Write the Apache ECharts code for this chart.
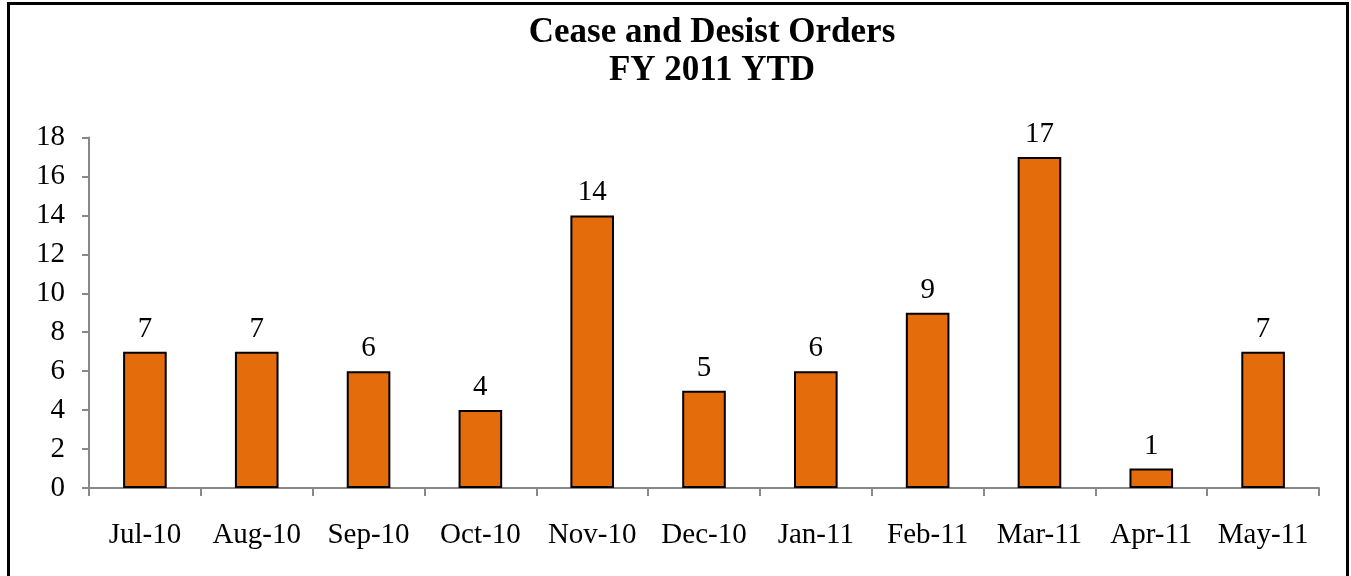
<!DOCTYPE html>
<html>
<head>
<meta charset="utf-8">
<script src="https://cdn.jsdelivr.net/npm/echarts@6/dist/echarts.min.js"></script>
<style>
html,body{margin:0;padding:0;background:#fff;overflow:hidden;}
#frame{position:absolute;left:7px;top:2px;width:1336px;height:600px;border:3px solid #000;box-sizing:content-box;}
#chart{position:absolute;left:0;top:0;width:1351px;height:576px;}
</style>
</head>
<body>
<div id="frame"></div>
<div id="chart"></div>
<script>
const categories = ['Jul-10','Aug-10','Sep-10','Oct-10','Nov-10','Dec-10','Jan-11','Feb-11','Mar-11','Apr-11','May-11'];
const orders = [7, 7, 6, 4, 14, 5, 6, 9, 17, 1, 7];
const titleLines = ['Cease and Desist Orders', 'FY 2011 YTD'];

const chart = echarts.init(document.getElementById('chart'), null, {renderer: 'canvas'});
const serif = '"Liberation Serif", "Times New Roman", serif';
chart.setOption({
  animation: false,
  backgroundColor: 'transparent',
  title: {
    text: titleLines.join('\n'),
    left: 707,
    textAlign: 'center',
    top: 9,
    textStyle: {fontFamily: serif, fontWeight: 'bold', fontSize: 35, lineHeight: 38, color: '#000'}
  },
  grid: {left: 89, right: 32, top: 137.5, bottom: 88, containLabel: false},
  xAxis: {
    type: 'category',
    data: categories,
    axisLine: {lineStyle: {color: '#888', width: 2}},
    axisTick: {show: true, alignWithLabel: false, length: 8, lineStyle: {color: '#888', width: 2}},
    axisLabel: {fontFamily: serif, fontSize: 29, color: '#000', margin: 33, interval: 0}
  },
  yAxis: {
    type: 'value',
    min: 0, max: 18, interval: 2,
    axisLine: {show: true, lineStyle: {color: '#888', width: 2}},
    axisTick: {show: true, length: 7, lineStyle: {color: '#888', width: 2}},
    splitLine: {show: false},
    axisLabel: {fontFamily: serif, fontSize: 29, color: '#000', margin: 24}
  },
  series: [{
    type: 'bar',
    data: orders,
    barWidth: '39%',
    itemStyle: {color: '#E46C0A', borderColor: '#000', borderWidth: 2},
    label: {show: true, position: 'top', distance: 8, fontFamily: serif, fontSize: 29, color: '#000'}
  }]
});
</script>
</body>
</html>
